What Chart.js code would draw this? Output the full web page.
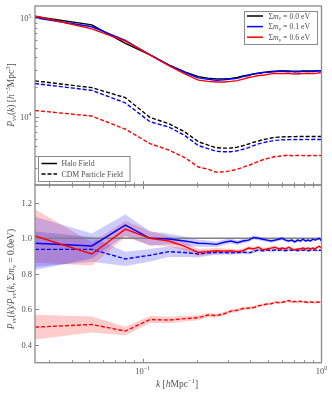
<!DOCTYPE html>
<html>
<head>
<meta charset="utf-8">
<script src="https://cdn.jsdelivr.net/npm/chart.js@4.4.0/dist/chart.umd.min.js"></script>
<style>
  html, body { margin: 0; padding: 0; background: #fff; }
  #wrap { position: relative; width: 332px; height: 394px; overflow: hidden; }
  canvas { position: absolute; left: 0; }
  #topChart { top: 0; }
  #botChart { top: 180px; }
</style>
</head>
<body>
<div id="wrap">
  <canvas id="topChart" width="332" height="190"></canvas>
  <canvas id="botChart" width="332" height="214"></canvas>
</div>
<script>
// k bins [h/Mpc]
const kVals = [0.025, 0.052, 0.080, 0.110, 0.140, 0.172, 0.205, 0.232, 0.258, 0.285,
  0.311, 0.338, 0.364, 0.391, 0.417, 0.444, 0.470, 0.497, 0.523, 0.550,
  0.576, 0.603, 0.629, 0.656, 0.682, 0.709, 0.735, 0.762, 0.788, 0.815,
  0.841, 0.868, 0.894, 0.921, 0.947, 0.974, 1.000];

// top panel: halo field power spectra
const haloNu00 = [104000, 85500, 55500, 42400, 33500, 28500, 25500, 24600, 24200, 24200,
  24500, 25100, 25900, 26500, 27100, 27600, 28100, 28500, 28800, 29000,
  29100, 29100, 29100, 29100, 29000, 29000, 29000, 29000, 29100, 29100,
  29100, 29100, 29200, 29200, 29200, 29300, 29300];
const haloNu01 = [101100, 81800, 59600, 42400, 33400, 28100, 24800, 23900, 23400, 23700,
  24100, 24500, 25500, 26200, 27200, 27600, 28000, 28200, 28400, 28700,
  29000, 29100, 28800, 28700, 28700, 28400, 28700, 28600, 29000, 28700,
  28800, 28700, 29100, 28900, 29100, 29300, 28900];
const haloNu06 = [105400, 78000, 58400, 42400, 33000, 27200, 23500, 22800, 22500, 22500,
  22800, 23200, 24100, 25000, 25500, 26200, 26300, 26800, 27200, 27600,
  27400, 27500, 27400, 27600, 27300, 27100, 27300, 27300, 27500, 27400,
  27500, 27400, 27600, 27400, 27700, 28000, 27700];

// top panel: CDM particle field power spectra
const cdmNu00 = [23100, 19700, 15600, 9800, 8500, 7000, 5570, 5150, 4840, 4790,
  4800, 4900, 5070, 5280, 5500, 5660, 5840, 5950, 6070, 6150,
  6200, 6230, 6250, 6260, 6270, 6270, 6280, 6280, 6280, 6290,
  6290, 6290, 6300, 6300, 6300, 6300, 6300];
const cdmNu01 = [21700, 18500, 13800, 8870, 7860, 6440, 5080, 4730, 4450, 4410,
  4410, 4510, 4670, 4850, 5090, 5290, 5430, 5560, 5650, 5750,
  5780, 5830, 5810, 5850, 5840, 5860, 5840, 5870, 5850, 5880,
  5850, 5870, 5870, 5890, 5860, 5880, 5870];
const cdmNu06 = [11550, 10150, 7460, 5320, 4590, 3840, 3080, 2930, 2730, 2750,
  2830, 2920, 3070, 3200, 3360, 3510, 3650, 3750, 3840, 3940,
  3960, 3990, 4030, 4070, 4010, 4040, 4030, 4060, 4020, 4040,
  4010, 4040, 4030, 4020, 4040, 4030, 4030];

// bottom panel: ratios to the massless case
const ratioHalo01 = [0.972, 0.957, 1.074, 1.000, 0.996, 0.985, 0.972, 0.970, 0.966, 0.978,
  0.985, 0.975, 0.985, 0.990, 1.005, 1.000, 0.995, 0.990, 0.985, 0.990,
  0.995, 1.000, 0.990, 0.985, 0.990, 0.980, 0.990, 0.985, 0.995, 0.985,
  0.990, 0.985, 0.995, 0.990, 0.995, 1.000, 0.985];
const ratioHalo06 = [1.013, 0.912, 1.052, 1.000, 0.985, 0.955, 0.920, 0.925, 0.930, 0.928,
  0.930, 0.925, 0.930, 0.945, 0.940, 0.950, 0.935, 0.940, 0.945, 0.950,
  0.940, 0.945, 0.940, 0.950, 0.940, 0.935, 0.940, 0.940, 0.945, 0.940,
  0.945, 0.940, 0.945, 0.940, 0.950, 0.955, 0.945];
const ratioCdm01 = [0.938, 0.938, 0.884, 0.905, 0.925, 0.920, 0.912, 0.918, 0.920, 0.920,
  0.918, 0.920, 0.922, 0.918, 0.925, 0.935, 0.930, 0.935, 0.930, 0.935,
  0.932, 0.935, 0.930, 0.935, 0.932, 0.935, 0.930, 0.934, 0.932, 0.935,
  0.930, 0.933, 0.932, 0.935, 0.930, 0.933, 0.932];
const ratioCdm06 = [0.500, 0.515, 0.478, 0.543, 0.540, 0.548, 0.553, 0.568, 0.565, 0.575,
  0.590, 0.595, 0.605, 0.607, 0.610, 0.620, 0.625, 0.630, 0.632, 0.640,
  0.638, 0.640, 0.645, 0.650, 0.640, 0.645, 0.642, 0.646, 0.640, 0.643,
  0.638, 0.642, 0.640, 0.638, 0.642, 0.640, 0.640];

// half widths of the shaded bands
const errHalo01 = [0.150, 0.070, 0.060, 0.040, 0.030, 0.025, 0.020, 0.018, 0.016, 0.015,
  0.014, 0.013, 0.013, 0.012, 0.012, 0.011, 0.011, 0.011, 0.010, 0.010,
  0.010, 0.010, 0.010, 0.009, 0.009, 0.009, 0.009, 0.009, 0.009, 0.008,
  0.008, 0.008, 0.008, 0.008, 0.008, 0.008, 0.008];
const errHalo06 = [0.150, 0.065, 0.045, 0.040, 0.030, 0.025, 0.020, 0.017, 0.015, 0.014,
  0.013, 0.012, 0.012, 0.011, 0.011, 0.010, 0.010, 0.010, 0.010, 0.009,
  0.009, 0.009, 0.009, 0.009, 0.008, 0.008, 0.008, 0.008, 0.008, 0.008,
  0.008, 0.007, 0.007, 0.007, 0.007, 0.007, 0.007];
const errCdm01 = [0.100, 0.070, 0.040, 0.035, 0.030, 0.025, 0.020, 0.016, 0.014, 0.012,
  0.011, 0.010, 0.010, 0.009, 0.009, 0.008, 0.008, 0.008, 0.007, 0.007,
  0.007, 0.007, 0.007, 0.006, 0.006, 0.006, 0.006, 0.006, 0.006, 0.006,
  0.006, 0.006, 0.006, 0.006, 0.006, 0.006, 0.006];
const errCdm06 = [0.070, 0.045, 0.025, 0.020, 0.018, 0.016, 0.014, 0.012, 0.011, 0.010,
  0.010, 0.009, 0.009, 0.009, 0.008, 0.008, 0.008, 0.008, 0.007, 0.007,
  0.007, 0.007, 0.007, 0.007, 0.007, 0.006, 0.006, 0.006, 0.006, 0.006,
  0.006, 0.006, 0.006, 0.006, 0.006, 0.006, 0.006];

// ticks and legend text
const xMajorTicks = [0.1, 1];
const xMajorLabels = [['10', '−1'], ['10', '0']];
const topYMajor = [1e4, 1e5];
const topYLabels = [['10', '4'], ['10', '5']];
const botYTicks = [0.4, 0.6, 0.8, 1.0, 1.2];
const botYLabels = ['0.4', '0.6', '0.8', '1.0', '1.2'];
const massLabels = ['0.0', '0.1', '0.6'];
const massColors = ['#000000', '#0000ff', '#ff0000'];
const fieldLabels = ['Halo Field', 'CDM Particle Field'];

const GREY = '#8a8a8a';
const TEXT = '#505050';
const FAM = "'Liberation Serif', 'DejaVu Serif', serif";

function pts(ys) { return kVals.map((k, i) => ({ x: k, y: ys[i] })); }
function shifted(ys, es, sign) { return kVals.map((k, i) => ({ x: k, y: ys[i] + sign * es[i] })); }

// minor tick positions
const xMinor = [];
for (let d = 0.01; d < 1; d *= 10) for (let m = 2; m <= 9; m++) xMinor.push(m * d);
const topYMinor = [];
for (let d = 1000; d < 1e5; d *= 10) for (let m = 2; m <= 9; m++) topYMinor.push(m * d);

// small rich text drawer: segs = [[text, flags]], flags: i italic, _ sub, ^ sup
function rich(ctx, segs, x, y, size, align, rot) {
  ctx.save();
  ctx.translate(x, y);
  if (rot) ctx.rotate(-Math.PI / 2);
  const fontOf = f => (f.includes('i') ? 'italic ' : '') +
    ((f.includes('_') || f.includes('^')) ? size * 0.7 : size) + 'px ' + FAM;
  let w = 0;
  const ws = segs.map(([t, f]) => { ctx.font = fontOf(f); const m = ctx.measureText(t).width; w += m; return m; });
  let cx = align === 'center' ? -w / 2 : align === 'right' ? -w : 0;
  ctx.textAlign = 'left';
  ctx.textBaseline = 'alphabetic';
  ctx.fillStyle = TEXT;
  segs.forEach(([t, f], i) => {
    ctx.font = fontOf(f);
    const dy = f.includes('_') ? size * 0.22 : f.includes('^') ? -size * 0.4 : 0;
    ctx.fillText(t, cx, dy);
    cx += ws[i];
  });
  ctx.restore();
}

function drawFrame(chart, o) {
  const ctx = chart.ctx, a = chart.chartArea;
  const xs = chart.scales.x, ys = chart.scales.y;
  ctx.save();
  ctx.strokeStyle = GREY;
  ctx.lineWidth = 1;
  ctx.beginPath();
  const xt = (v, len) => {
    const p = Math.round(xs.getPixelForValue(v)) + 0.5;
    if (p < a.left + 1 || p > a.right - 1) return;
    if (o.tickBottom) { ctx.moveTo(p, a.bottom); ctx.lineTo(p, a.bottom - len); }
    if (o.tickTop) { ctx.moveTo(p, a.top); ctx.lineTo(p, a.top + len); }
  };
  xMajorTicks.forEach(v => xt(v, 4));
  xMinor.forEach(v => xt(v, 2.5));
  const yt = (v, len) => {
    const p = Math.round(ys.getPixelForValue(v)) + 0.5;
    if (p < a.top + 1 || p > a.bottom - 1) return;
    ctx.moveTo(a.left, p); ctx.lineTo(a.left + len, p);
  };
  o.yMajor.forEach(v => yt(v, 4));
  (o.yMinor || []).forEach(v => yt(v, 2.5));
  ctx.stroke();
  ctx.lineWidth = 1.3;
  ctx.strokeRect(a.left, a.top, a.right - a.left, a.bottom - a.top);
  ctx.restore();
}

const topDecor = {
  id: 'topDecor',
  afterDraw(chart) {
    const ctx = chart.ctx, ys = chart.scales.y;
    drawFrame(chart, { tickBottom: true, yMajor: topYMajor, yMinor: topYMinor });
    topYMajor.forEach((v, i) => {
      const p = ys.getPixelForValue(v);
      rich(ctx, [[topYLabels[i][0], ''], [topYLabels[i][1], '^']], 31.5, p + 3, 8.5, 'right');
    });
    rich(ctx, [['P', 'i'], ['vv', 'i_'], ['(', ''], ['k', 'i'], [') [', ''], ['h', 'i'],
      ['−3', '^'], ['Mpc', ''], ['3', '^'], [']', '']], 14, 95, 9.5, 'center', true);

    // neutrino mass legend
    ctx.save();
    ctx.fillStyle = '#fff';
    ctx.fillRect(244.5, 11.5, 73, 33);
    ctx.strokeStyle = GREY;
    ctx.lineWidth = 1;
    ctx.strokeRect(244.5, 11.5, 73, 33);
    massLabels.forEach((m, i) => {
      const y = 16 + i * 10.6;
      ctx.strokeStyle = massColors[i];
      ctx.lineWidth = 1.5;
      ctx.beginPath(); ctx.moveTo(247, y); ctx.lineTo(263, y); ctx.stroke();
      rich(ctx, [['Σ', ''], ['m', 'i'], ['ν', 'i_'], [' = ' + m + ' eV', '']], 268.5, y + 2.6, 7.8, 'left');
    });
    // field type legend
    ctx.fillStyle = '#fff';
    ctx.fillRect(38.5, 156.5, 91.5, 25);
    ctx.strokeStyle = GREY;
    ctx.lineWidth = 1;
    ctx.strokeRect(38.5, 156.5, 91.5, 25);
    fieldLabels.forEach((t, i) => {
      const y = 163.5 + i * 10.4;
      ctx.strokeStyle = '#000';
      ctx.lineWidth = 1.5;
      ctx.setLineDash(i ? [4, 2] : []);
      ctx.beginPath(); ctx.moveTo(41.5, y); ctx.lineTo(57, y); ctx.stroke();
      ctx.setLineDash([]);
      rich(ctx, [[t, '']], 61.5, y + 2.7, 7.8, 'left');
    });
    ctx.restore();
  }
};

const botDecor = {
  id: 'botDecor',
  afterDraw(chart) {
    const ctx = chart.ctx, xs = chart.scales.x, ys = chart.scales.y;
    drawFrame(chart, { tickBottom: true, tickTop: true, yMajor: botYTicks });
    botYTicks.forEach((v, i) => {
      rich(ctx, [[botYLabels[i], '']], 32, ys.getPixelForValue(v) + 3, 8.5, 'right');
    });
    xMajorTicks.forEach((v, i) => {
      rich(ctx, [[xMajorLabels[i][0], ''], [xMajorLabels[i][1], '^']], xs.getPixelForValue(v), 193.5, 8.5, 'center');
    });
    rich(ctx, [['k', 'i'], [' [', ''], ['h', 'i'], ['Mpc', ''], ['−1', '^'], [']', '']], 177, 206.5, 9.5, 'center');
    rich(ctx, [['P', 'i'], ['vv', 'i_'], ['(', ''], ['k', 'i'], [')/', ''], ['P', 'i'], ['vv', 'i_'],
      ['(', ''], ['k', 'i'], [', Σ', ''], ['m', 'i'], ['ν', 'i_'], [' = 0.0eV)', '']], 14, 99, 9.5, 'center', true);
  }
};

function line(data, color, dashed, order) {
  return {
    data: data, borderColor: color, borderWidth: 1.4, borderDash: dashed ? [4, 2] : [],
    pointRadius: 0, tension: 0, fill: false, order: order
  };
}
function band(vals, errs, color) {
  return [
    { data: shifted(vals, errs, -1), borderWidth: 0, pointRadius: 0, fill: false, order: 10 },
    { data: shifted(vals, errs, 1), borderWidth: 0, pointRadius: 0, fill: '-1', backgroundColor: color, order: 10 }
  ];
}

function scales(yScale, xHeight) {
  return {
    x: {
      type: 'logarithmic', min: 0.025, max: 1.0,
      ticks: { display: false }, grid: { display: false }, border: { display: false },
      afterFit: s => { s.height = xHeight; }
    },
    y: Object.assign({
      ticks: { display: false }, grid: { display: false }, border: { display: false },
      afterFit: s => { s.width = 35; }
    }, yScale)
  };
}

const common = {
  responsive: false, animation: false, events: [],
  plugins: { legend: { display: false }, tooltip: { enabled: false } }
};

new Chart(document.getElementById('topChart'), {
  type: 'line',
  data: {
    datasets: [
      line(pts(haloNu06), '#ff0000', false, 1),
      line(pts(haloNu01), '#0000ff', false, 2),
      line(pts(haloNu00), '#000000', false, 3),
      line(pts(cdmNu06), '#ff0000', true, 1),
      line(pts(cdmNu01), '#0000ff', true, 2),
      line(pts(cdmNu00), '#000000', true, 3)
    ]
  },
  options: Object.assign({}, common, {
    layout: { padding: { top: 6, right: 10.5, left: 0, bottom: 0 } },
    scales: scales({ type: 'logarithmic', min: 2024, max: 133000 }, 5)
  }),
  plugins: [topDecor]
});

new Chart(document.getElementById('botChart'), {
  type: 'line',
  data: {
    datasets: [
      ...band(ratioHalo01, errHalo01, 'rgba(0,0,255,0.2)'),
      ...band(ratioHalo06, errHalo06, 'rgba(255,0,0,0.2)'),
      ...band(ratioCdm01, errCdm01, 'rgba(0,0,255,0.2)'),
      ...band(ratioCdm06, errCdm06, 'rgba(255,0,0,0.2)'),
      line([{ x: 0.025, y: 1 }, { x: 1, y: 1 }], '#808080', false, 5),
      line(pts(ratioHalo06), '#ff0000', false, 1),
      line(pts(ratioHalo01), '#0000ff', false, 2),
      line(pts(ratioCdm06), '#ff0000', true, 3),
      line(pts(ratioCdm01), '#0000ff', true, 3)
    ]
  },
  options: Object.assign({}, common, {
    layout: { padding: { top: 5, right: 10.5, left: 0, bottom: 0 } },
    scales: scales({ type: 'linear', min: 0.3, max: 1.3 }, 31.3)
  }),
  plugins: [botDecor]
});
</script>
</body>
</html>
